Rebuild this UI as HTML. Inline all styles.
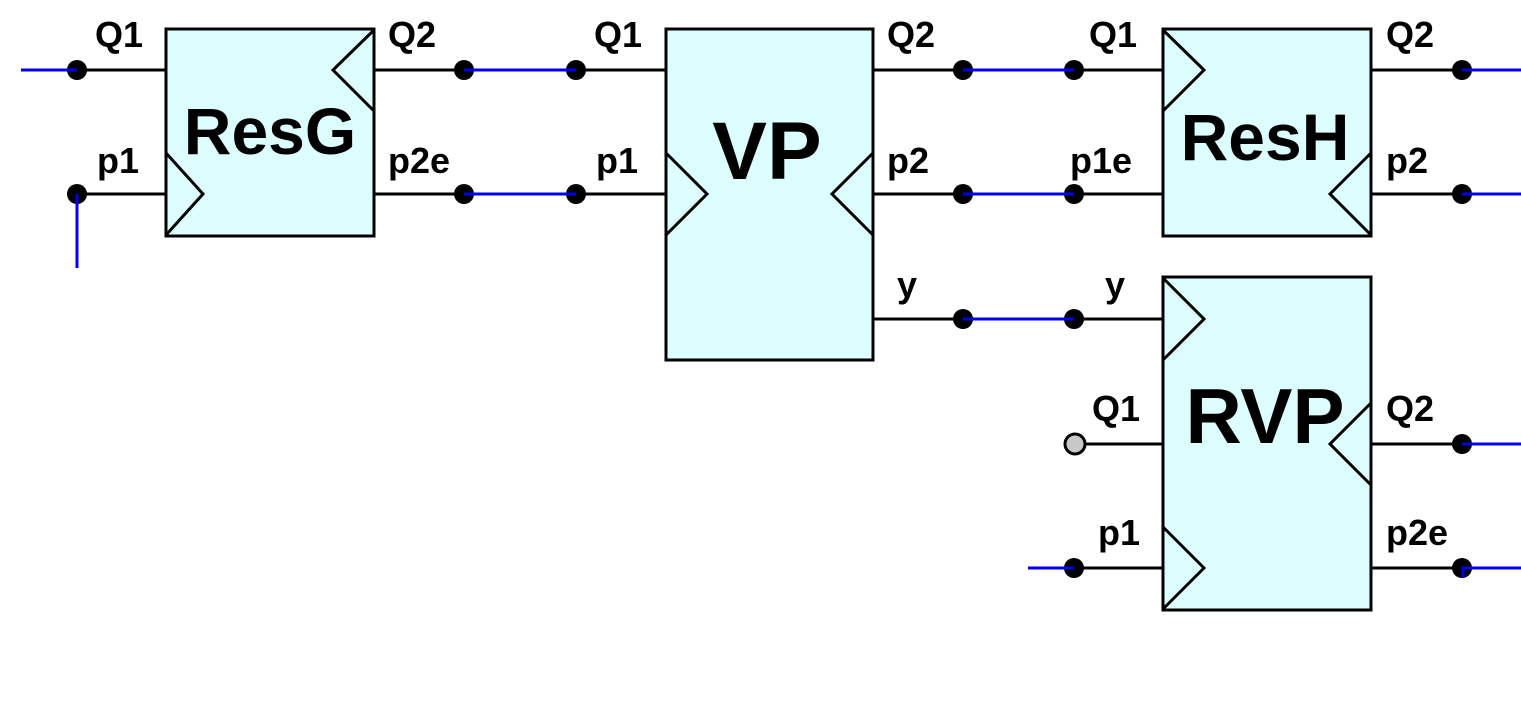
<!DOCTYPE html>
<html><head><style>html,body{margin:0;padding:0;background:#fff}</style></head><body>
<svg width="1521" height="720" xmlns="http://www.w3.org/2000/svg" font-family="Liberation Sans, sans-serif" font-weight="bold">
<g fill="#dcfefe" stroke="#000" stroke-width="3">
<rect x="166" y="29" width="208" height="207"/>
<rect x="666" y="29" width="207" height="331"/>
<rect x="1163" y="29" width="208" height="207"/>
<rect x="1163" y="277" width="208" height="333"/>
</g>
<g fill="none" stroke="#000" stroke-width="3">
<polyline points="166,153 203,194 166,235"/>
<polyline points="374,30 333,70 374,111"/>
<polyline points="666,153 707,194 666,235"/>
<polyline points="873,153 832,194 873,235"/>
<polyline points="1163,30 1204,70 1163,111"/>
<polyline points="1371,153 1330,194 1371,235"/>
<polyline points="1163,278 1204,319 1163,360"/>
<polyline points="1371,403 1330,444 1371,485"/>
<polyline points="1163,527 1204,568 1163,609"/>
<path d="M77 70H166M77 194H166M374 70H464M374 194H464M576 70H666M576 194H666M873 70H963M873 194H963M873 319H963M1074 70H1163M1074 194H1163M1074 319H1163M1075 444H1163M1074 568H1163M1371 70H1462M1371 194H1462M1371 444H1462M1371 568H1462"/>
</g>
<g fill="#000">
<circle cx="77" cy="70" r="10"/><circle cx="77" cy="194" r="10"/>
<circle cx="464" cy="70" r="10"/><circle cx="464" cy="194" r="10"/>
<circle cx="576" cy="70" r="10"/><circle cx="576" cy="194" r="10"/>
<circle cx="963" cy="70" r="10"/><circle cx="963" cy="194" r="10"/><circle cx="963" cy="319" r="10"/>
<circle cx="1074" cy="70" r="10"/><circle cx="1074" cy="194" r="10"/><circle cx="1074" cy="319" r="10"/>
<circle cx="1074" cy="568" r="10"/>
<circle cx="1462" cy="70" r="10"/><circle cx="1462" cy="194" r="10"/><circle cx="1462" cy="444" r="10"/><circle cx="1462" cy="568" r="10"/>
</g>
<circle cx="1075" cy="444" r="10" fill="#c8c8c8" stroke="#000" stroke-width="3"/>
<g fill="none" stroke="#0000ee" stroke-width="3">
<path d="M21 70H77M77 194V268M464 70H576M464 194H576M963 70H1074M963 194H1074M963 319H1074M1028 568H1074M1462 70H1521M1462 194H1521M1462 444H1521M1521 568H1463V578"/>
</g>
<g font-size="36" fill="#000">
<text x="95" y="47">Q1</text><text x="97" y="173">p1</text>
<text x="388" y="47">Q2</text><text x="388" y="173">p2e</text>
<text x="594" y="47">Q1</text><text x="596" y="173">p1</text>
<text x="887" y="47">Q2</text><text x="887" y="173">p2</text><text x="897" y="297">y</text>
<text x="1089" y="47">Q1</text><text x="1070" y="173">p1e</text><text x="1105" y="297">y</text>
<text x="1092" y="421">Q1</text><text x="1098" y="545">p1</text>
<text x="1386" y="47">Q2</text><text x="1386" y="173">p2</text>
<text x="1386" y="421">Q2</text><text x="1386" y="545">p2e</text>
</g>
<g fill="#000" text-anchor="middle">
<text x="270" y="154" font-size="66">ResG</text>
<text x="767" y="179" font-size="82">VP</text>
<text x="1265" y="160" font-size="66">ResH</text>
<text x="1265" y="443" font-size="78">RVP</text>
</g>
</svg>
</body></html>
